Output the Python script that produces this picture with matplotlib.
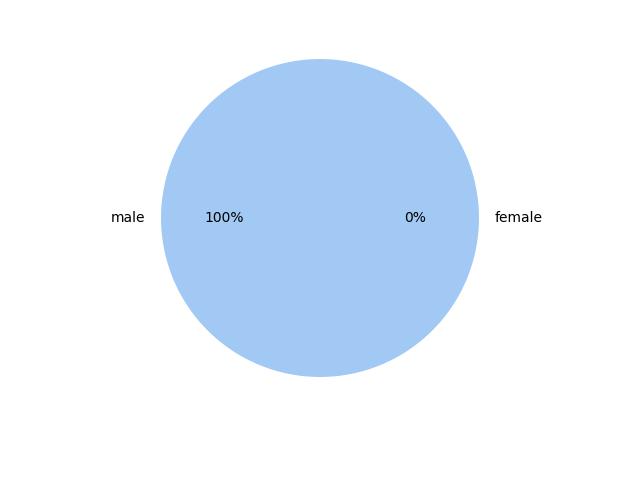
import matplotlib
matplotlib.use("Agg")
import matplotlib.pyplot as plt

# dados
labels = ['male', 'female']
values = [100, 0]
colors = ['#a1c9f4', '#ffb482']

fig = plt.figure(figsize=(6.4, 4.8), dpi=100)
ax = fig.add_axes([0.1895, 0.1318, 0.621, 0.828])
ax.pie(values, labels=labels, colors=colors, autopct='%.0f%%')
ax.set_xlim(-1.25, 1.25)
ax.set_ylim(-1.25, 1.25)

fig.savefig('out.png')
